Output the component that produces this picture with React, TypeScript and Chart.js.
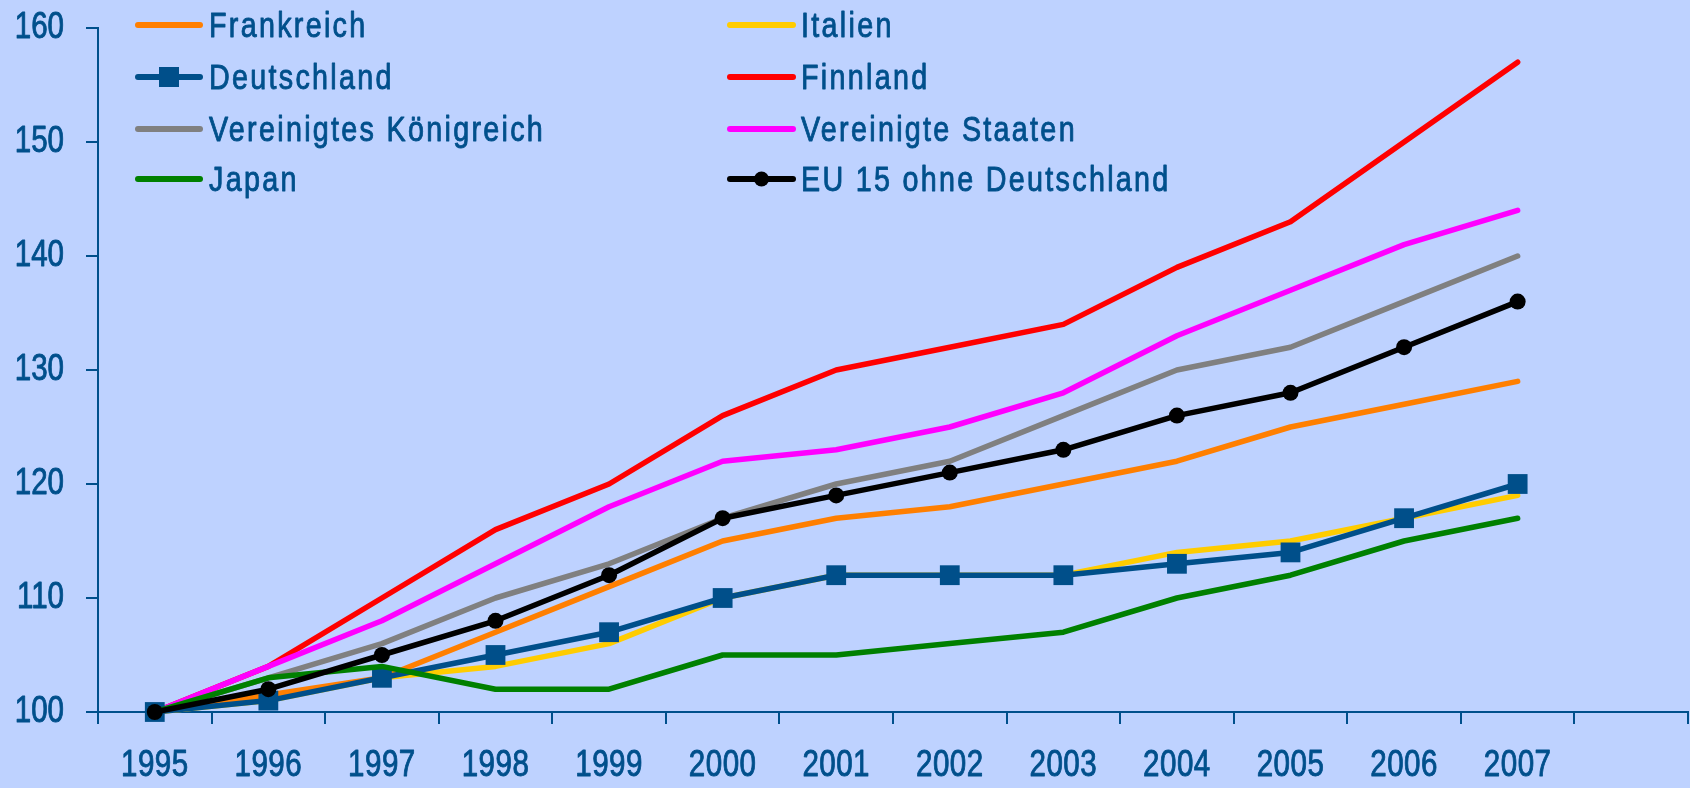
import React, { useEffect, useRef } from 'react';
import { Chart, registerables } from 'chart.js';

Chart.register(...registerables);

// ---- data ----
const years = ['1995', '1996', '1997', '1998', '1999', '2000', '2001', '2002', '2003', '2004', '2005', '2006', '2007', ''];
const frankreich = [100, 101.5, 103, 107, 111, 115, 117, 118, 120, 122, 125, 127, 129];
const italien = [100, 101, 103, 104, 106, 110, 112, 112, 112, 114, 115, 117, 119];
const deutschland = [100, 101, 103, 105, 107, 110, 112, 112, 112, 113, 114, 117, 120];
const finnland = [100, 104, 110, 116, 120, 126, 130, 132, 134, 139, 143, 150, 157];
const vereinigtesKoenigreich = [100, 103, 106, 110, 113, 117, 120, 122, 126, 130, 132, 136, 140];
const vereinigteStaaten = [100, 104, 108, 113, 118, 122, 123, 125, 128, 133, 137, 141, 144];
const japan = [100, 103, 104, 102, 102, 105, 105, 106, 107, 110, 112, 115, 117];
const eu15 = [100, 102, 105, 108, 112, 117, 119, 121, 123, 126, 128, 132, 136];
const seriesNames = ['Frankreich', 'Italien', 'Deutschland', 'Finnland', 'Vereinigtes Königreich', 'Vereinigte Staaten', 'Japan', 'EU 15 ohne Deutschland'];
const yMin = 100;
const yMax = 160;
const yStep = 10;

// ---- styles ----
const BG = 'rgb(190,210,255)';
const TEXT = '#00508C';
const FONT = '"Liberation Sans", Arial, sans-serif';
const SQUEEZE = 0.82;

const seriesStyles = [
  { color: '#FF7F00', point: 'none', order: 4 },
  { color: '#FFCC00', point: 'none', order: 7 },
  { color: '#004F8A', point: 'rect', order: 2 },
  { color: '#FF0000', point: 'none', order: 6 },
  { color: '#808080', point: 'none', order: 3 },
  { color: '#FF00FF', point: 'none', order: 5 },
  { color: '#008000', point: 'none', order: 1 },
  { color: '#000000', point: 'circle', order: 0 },
];
const seriesData = [frankreich, italien, deutschland, finnland, vereinigtesKoenigreich, vereinigteStaaten, japan, eu15];

const legendCols = [
  { x0: 138, x1: 200, tx: 209 },
  { x0: 730, x1: 793, tx: 801 },
];
const legendRowY = [25, 77, 129, 179];

function drawCondensed(ctx: CanvasRenderingContext2D, text: string, x: number, y: number, align: CanvasTextAlign, size: number, spacing: number) {
  ctx.save();
  ctx.translate(x, y);
  ctx.scale(SQUEEZE, 1);
  ctx.font = `${size}px ${FONT}`;
  (ctx as any).letterSpacing = `${spacing}px`;
  ctx.textAlign = align;
  ctx.textBaseline = 'middle';
  ctx.fillStyle = TEXT;
  ctx.strokeStyle = TEXT;
  ctx.lineWidth = 0.9;
  ctx.lineJoin = 'round';
  ctx.fillText(text, 0, 0);
  ctx.strokeText(text, 0, 0);
  ctx.restore();
}

const textPlugin = {
  id: 'customText',
  afterDraw(chart: any) {
    const ctx = chart.ctx as CanvasRenderingContext2D;
    const xs = chart.scales.x;
    xs.ticks.forEach((t: any, i: number) => {
      const label = String(t.label ?? '');
      if (label) drawCondensed(ctx, label, xs.getPixelForTick(i), 766, 'center', 36, 0.6);
    });
    const ys = chart.scales.y;
    ys.ticks.forEach((t: any, i: number) => {
      drawCondensed(ctx, String(t.label), 64, ys.getPixelForTick(i), 'right', 36, 0);
    });
    ctx.save();
    seriesNames.forEach((name, i) => {
      const col = legendCols[i % 2];
      const y = legendRowY[Math.floor(i / 2)];
      const st = seriesStyles[i];
      ctx.strokeStyle = st.color;
      ctx.lineWidth = 6;
      ctx.lineCap = 'round';
      ctx.beginPath();
      ctx.moveTo(col.x0, y);
      ctx.lineTo(col.x1, y);
      ctx.stroke();
      const cx = (col.x0 + col.x1) / 2;
      ctx.fillStyle = st.color;
      if (st.point === 'rect') {
        ctx.fillRect(cx - 10, y - 10, 20, 20);
      } else if (st.point === 'circle') {
        ctx.beginPath();
        ctx.arc(cx, y, 7.5, 0, Math.PI * 2);
        ctx.fill();
      }
      drawCondensed(ctx, name, col.tx, y + 2.5, 'left', 35, 2.8);
    });
    ctx.restore();
  },
};

export default function App() {
  const ref = useRef<HTMLCanvasElement>(null);
  useEffect(() => {
    if (!ref.current) return;
    const datasets = seriesNames.map((name, i) => {
      const st = seriesStyles[i];
      return {
        label: name,
        data: seriesData[i],
        borderColor: st.color,
        backgroundColor: st.color,
        borderWidth: 5.5,
        borderJoinStyle: 'round' as const,
        borderCapStyle: 'round' as const,
        tension: 0,
        order: st.order,
        pointStyle: st.point === 'none' ? 'circle' : st.point,
        pointRadius: st.point === 'rect' ? 14 : st.point === 'circle' ? 8 : 0,
        pointHoverRadius: st.point === 'rect' ? 14 : st.point === 'circle' ? 8 : 0,
        pointBorderWidth: 0,
        pointBackgroundColor: st.color,
        pointBorderColor: st.color,
        clip: false as any,
      };
    });
    const chart = new Chart(ref.current, {
      type: 'line',
      data: { labels: years, datasets },
      options: {
        responsive: false,
        animation: false,
        devicePixelRatio: 1,
        layout: { autoPadding: false, padding: { top: 28, right: 2, left: 0, bottom: 0 } },
        plugins: { legend: { display: false }, tooltip: { enabled: false } },
        scales: {
          x: {
            offset: true,
            grid: { display: true, offset: true, drawOnChartArea: false, drawTicks: true, tickLength: 12, color: TEXT, lineWidth: 2 },
            border: { display: true, color: TEXT, width: 2 },
            ticks: { display: false, autoSkip: false, maxRotation: 0, padding: 0 },
            afterFit: (s: any) => { s.height = 76; s.paddingLeft = 0; s.paddingRight = 0; },
          },
          y: {
            min: yMin,
            max: yMax,
            grid: { display: true, drawOnChartArea: false, drawTicks: true, tickLength: 12, color: TEXT, lineWidth: 2 },
            border: { display: true, color: TEXT, width: 2 },
            ticks: { display: false, stepSize: yStep, padding: 0 },
            afterFit: (s: any) => { s.width = 98; s.paddingTop = 0; s.paddingBottom = 0; },
          },
        },
      },
      plugins: [textPlugin],
    });
    return () => chart.destroy();
  }, []);
  return (
    <div style={{ position: 'fixed', left: 0, top: 0, width: 1690, height: 788, background: BG }}>
      <canvas ref={ref} width={1690} height={788} style={{ display: 'block' }} />
    </div>
  );
}
